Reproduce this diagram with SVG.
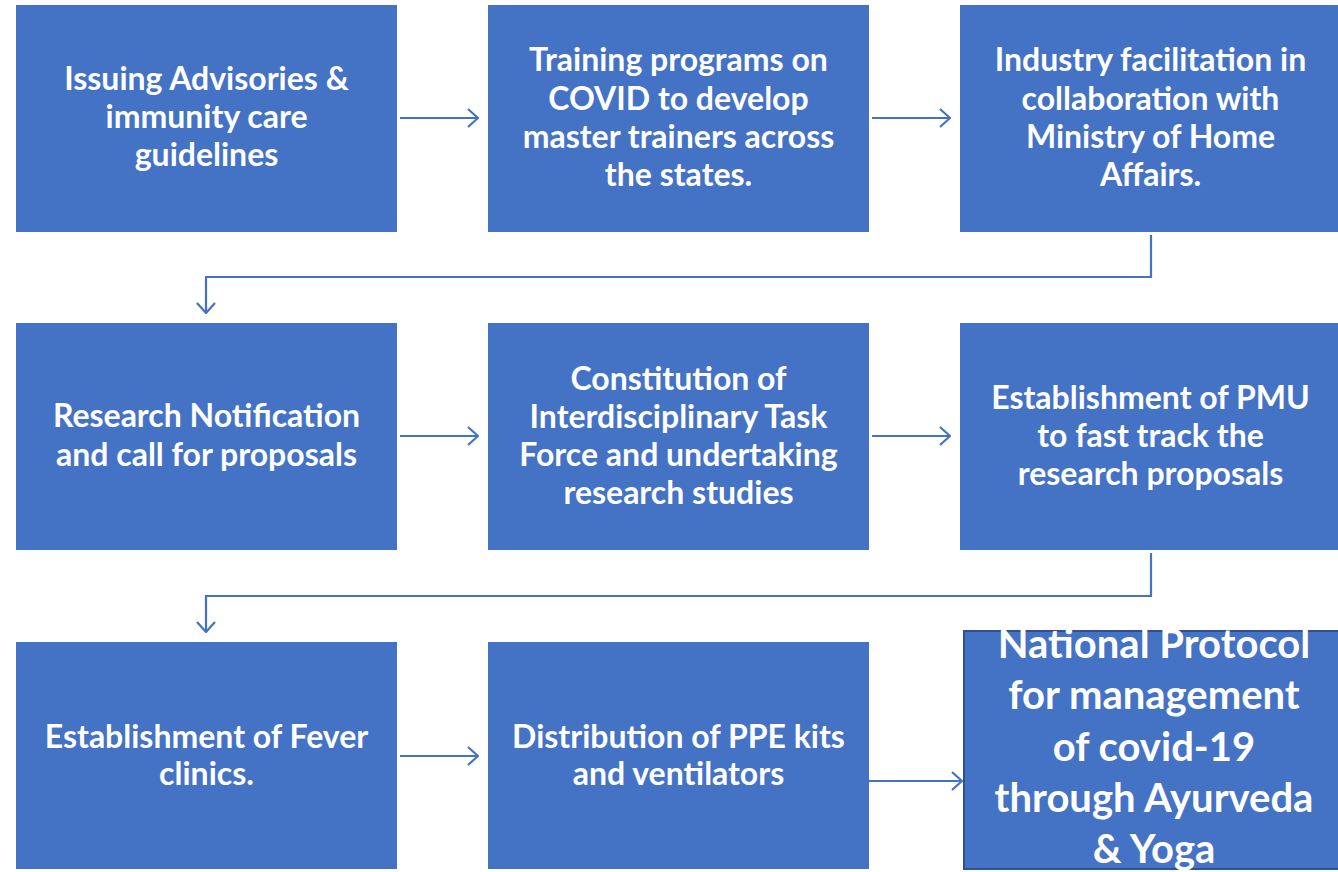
<svg xmlns="http://www.w3.org/2000/svg" width="1338" height="872" viewBox="0 0 1338 872">
<defs>
<style>
.box{fill:#4472C4;}
.t{font-family:Lato,"Open Sans",sans-serif;font-weight:bold;font-size:32px;fill:#fff;text-anchor:middle;}
.tb{font-family:Lato,"Open Sans",sans-serif;font-weight:bold;font-size:40px;fill:#fff;text-anchor:middle;}
.c{fill:none;stroke:#4472C4;stroke-width:2.2;}
</style>
<marker id="ah" viewBox="0 0 12 20" refX="11" refY="10" markerWidth="12" markerHeight="20" markerUnits="userSpaceOnUse" orient="auto">
<path d="M1,1 L11,10 L1,19" fill="none" stroke="#4472C4" stroke-width="2.2"/>
</marker>
</defs>
<rect width="1338" height="872" fill="#fff"/>
<g id="connectors">
<path class="c" d="M400,118 H478" marker-end="url(#ah)"/>
<path class="c" d="M872,118 H950" marker-end="url(#ah)"/>
<path class="c" d="M1151,235 V277 H206 V313" marker-end="url(#ah)"/>
<path class="c" d="M400,436 H478" marker-end="url(#ah)"/>
<path class="c" d="M872,436 H950" marker-end="url(#ah)"/>
<path class="c" d="M1151,553 V596 H206 V632" marker-end="url(#ah)"/>
<path class="c" d="M400,756 H478" marker-end="url(#ah)"/>
<path class="c" d="M869,781 H962" marker-end="url(#ah)"/>
</g>
<g id="n1"><rect class="box" x="16" y="5" width="381" height="227"/>
<text class="t" x="206.5" y="90">Issuing Advisories &amp;</text>
<text class="t" x="206.5" y="128">immunity care</text>
<text class="t" x="206.5" y="166">guidelines</text></g>
<g id="n2"><rect class="box" x="488" y="5" width="381" height="227"/>
<text class="t" x="678.5" y="71">Training programs on</text>
<text class="t" x="678.5" y="110">COVID to develop</text>
<text class="t" x="678.5" y="148">master trainers across</text>
<text class="t" x="678.5" y="186">the states.</text></g>
<g id="n3"><rect class="box" x="960" y="5" width="378" height="227"/>
<text class="t" x="1150.5" y="71">Industry facilitation in</text>
<text class="t" x="1150.5" y="110">collaboration with</text>
<text class="t" x="1150.5" y="148">Ministry of Home</text>
<text class="t" x="1150.5" y="186">Affairs.</text></g>
<g id="n4"><rect class="box" x="16" y="323" width="381" height="227"/>
<text class="t" x="206.5" y="427">Research Notification</text>
<text class="t" x="206.5" y="466">and call for proposals</text></g>
<g id="n5"><rect class="box" x="488" y="323" width="381" height="227"/>
<text class="t" x="678.5" y="390">Constitution of</text>
<text class="t" x="678.5" y="428">Interdisciplinary Task</text>
<text class="t" x="678.5" y="466">Force and undertaking</text>
<text class="t" x="678.5" y="504">research studies</text></g>
<g id="n6"><rect class="box" x="960" y="323" width="378" height="227"/>
<text class="t" x="1150.5" y="409">Establishment of PMU</text>
<text class="t" x="1150.5" y="447">to fast track the</text>
<text class="t" x="1150.5" y="485">research proposals</text></g>
<g id="n7"><rect class="box" x="16" y="642" width="381" height="227"/>
<text class="t" x="206.5" y="748">Establishment of Fever</text>
<text class="t" x="206.5" y="785">clinics.</text></g>
<g id="n8"><rect class="box" x="488" y="642" width="381" height="227"/>
<text class="t" x="678.5" y="748">Distribution of PPE kits</text>
<text class="t" x="678.5" y="785">and ventilators</text></g>
<g id="n9"><rect class="box" x="964" y="631" width="376" height="238" stroke="#2F528F" stroke-width="2"/>
<text class="tb" x="1154" y="658">National Protocol</text>
<text class="tb" x="1154" y="709">for management</text>
<text class="tb" x="1154" y="761">of covid-19</text>
<text class="tb" x="1154" y="812">through Ayurveda</text>
<text class="tb" x="1154" y="863">&amp; Yoga</text></g>
</svg>
